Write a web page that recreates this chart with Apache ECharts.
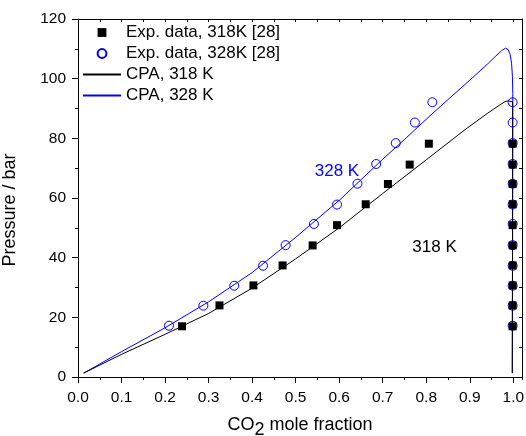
<!DOCTYPE html>
<html>
<head>
<meta charset="utf-8">
<title>CO2 solubility – CPA vs experiment</title>
<script src="https://cdn.jsdelivr.net/npm/echarts@6/dist/echarts.min.js"></script>
<style>
  html, body { margin: 0; padding: 0; background: #fff; }
  #chart { width: 526px; height: 436px; }
</style>
</head>
<body>
<div id="chart"></div>
<script>
// Experimental data, 318 K: liquid-phase CO2 fraction, vapour-phase CO2 fraction, pressure (bar)
const exp318P    = [17.0, 24.0, 30.7, 37.4, 44.1, 50.9, 57.9, 64.7, 71.2, 78.2];
const exp318XLiq = [0.239, 0.325, 0.403, 0.470, 0.539, 0.595, 0.661, 0.712, 0.762, 0.806];
const exp318XVap = [0.9985, 0.9985, 0.9985, 0.9985, 0.9985, 0.9985, 0.9985, 0.9985, 0.9985, 0.9985];

// Experimental data, 328 K
const exp328P    = [17.2, 23.9, 30.6, 37.3, 44.2, 51.3, 57.8, 64.8, 71.4, 78.4, 85.3, 92.1];
const exp328XLiq = [0.209, 0.288, 0.359, 0.425, 0.477, 0.542, 0.595, 0.642, 0.685, 0.730, 0.774, 0.814];
const exp328XVap = [0.9985, 0.9985, 0.9985, 0.9985, 0.9985, 0.9985, 0.9985, 0.9985, 0.9985, 0.9985, 0.9985, 0.9985];

// CPA phase envelope, 318 K (bubble branch then dew branch)
const cpa318X = [0.013, 0.1, 0.2, 0.3, 0.4, 0.5, 0.6, 0.7, 0.8, 0.889, 0.94, 0.97, 0.981, 0.9885, 0.9986, 0.9984, 0.9981, 0.9977];
const cpa318P = [1.3, 7.6, 14.3, 21.3, 29.8, 39.6, 50.0, 61.5, 72.8, 82.9, 88.3, 91.3, 92.3, 92.6, 92.2, 60.0, 30.0, 1.3];

// CPA phase envelope, 328 K
const cpa328X = [0.013, 0.1, 0.2, 0.3, 0.4, 0.5, 0.6, 0.7, 0.75, 0.8, 0.85, 0.9, 0.94, 0.96, 0.975, 0.982, 0.988, 0.993, 0.996, 0.998, 0.9988, 0.9985, 0.9981, 0.9977];
const cpa328P = [1.3, 8.5, 16.5, 25.2, 35.0, 46.8, 59.2, 73.0, 79.6, 86.4, 93.0, 99.5, 104.8, 107.6, 109.6, 110.2, 109.8, 108.0, 105.2, 100.7, 95.0, 60.0, 30.0, 1.3];

// Axis ticks
const xTicks = [0.0, 0.1, 0.2, 0.3, 0.4, 0.5, 0.6, 0.7, 0.8, 0.9, 1.0];
const yTicks = [0, 20, 40, 60, 80, 100, 120];

// Series names
const names = ['Exp. data, 318K [28]', 'Exp. data, 328K [28]', 'CPA, 318 K', 'CPA, 328 K'];

// Curve annotations: [text, x, pressure]
const notes = [['328 K', 0.595, 69.1], ['318 K', 0.819, 43.5]];

const BLUE = '#0000ff';
const FONT = 'Liberation Sans, Arial, Helvetica, sans-serif';

const pairs = (xs, ys) => xs.map((x, i) => [x, ys[i]]);

const xMin = xTicks[0], xMax = 1.02;
const yMin = yTicks[0], yMax = yTicks[yTicks.length - 1];

const chart = echarts.init(document.getElementById('chart'), null, { renderer: 'canvas' });

const hiddenLine = { color: 'rgba(0,0,0,0)', width: 0 };

const option = {
  animation: false,
  backgroundColor: '#fff',
  textStyle: { fontFamily: FONT, color: '#000' },
  grid: { left: 78, right: 4, top: 19, bottom: 59, containLabel: false, outerBoundsMode: 'none' },
  legend: {
    orient: 'vertical',
    left: 82,
    top: 24,
    padding: 0,
    itemWidth: 38,
    itemHeight: 11,
    itemGap: 4,
    selectedMode: false,
    textStyle: { fontFamily: FONT, fontSize: 17, color: '#000', lineHeight: 17 },
    data: [
      { name: names[0], lineStyle: { opacity: 0 } },
      { name: names[1], lineStyle: { opacity: 0 } },
      { name: names[2], itemStyle: { opacity: 0 } },
      { name: names[3], itemStyle: { opacity: 0 } }
    ]
  },
  xAxis: [
    {
      type: 'value', position: 'bottom', min: xMin, max: xMax, interval: 0.1,
      axisLine: { show: true, onZero: false, lineStyle: { color: '#000', width: 1 } },
      axisTick: { show: true, inside: false, length: 6, lineStyle: { color: '#000' } },
      splitLine: { show: false },
      axisLabel: {
        show: true, margin: 13, fontSize: 15.5, color: '#000', fontFamily: FONT,
        showMaxLabel: false,
        formatter: v => (xTicks.some(t => Math.abs(t - v) < 1e-9) ? v.toFixed(1) : '')
      },
      name: '{a|CO}{b|2}{a| mole fraction}',
      nameLocation: 'middle',
      nameGap: 35,
      nameTextStyle: {
        rich: {
          a: { fontSize: 18, fontFamily: FONT, color: '#000' },
          b: { fontSize: 18, fontFamily: FONT, color: '#000', padding: [9, 0, 0, 0] }
        }
      }
    },
    {
      type: 'value', position: 'bottom', min: xMin, max: xMax, interval: 0.05,
      axisLine: { show: false, onZero: false },
      axisTick: { show: true, inside: false, length: 3, lineStyle: { color: '#000' } },
      axisLabel: { show: false }, splitLine: { show: false }
    },
    {
      type: 'value', position: 'top', min: xMin, max: xMax, interval: 0.05,
      axisLine: { show: true, onZero: false, lineStyle: { color: '#000', width: 1 } },
      axisTick: { show: true, inside: true, length: 3, lineStyle: { color: '#000' } },
      axisLabel: { show: false }, splitLine: { show: false }
    }
  ],
  yAxis: [
    {
      type: 'value', position: 'left', min: yMin, max: yMax, interval: 20,
      axisLine: { show: true, onZero: false, lineStyle: { color: '#000', width: 1 } },
      axisTick: { show: true, inside: false, length: 6, lineStyle: { color: '#000' } },
      splitLine: { show: false },
      axisLabel: { show: true, margin: 12, fontSize: 15.5, color: '#000', fontFamily: FONT },
      name: 'Pressure / bar',
      nameLocation: 'middle',
      nameRotate: 90,
      nameGap: 59,
      nameTextStyle: { fontSize: 18, fontFamily: FONT, color: '#000', padding: [0, 24, 0, 0] }
    },
    {
      type: 'value', position: 'left', min: yMin, max: yMax, interval: 10,
      axisLine: { show: false, onZero: false },
      axisTick: { show: true, inside: false, length: 3, lineStyle: { color: '#000' } },
      axisLabel: { show: false }, splitLine: { show: false }
    },
    {
      type: 'value', position: 'right', min: yMin, max: yMax, interval: 10,
      axisLine: { show: true, onZero: false, lineStyle: { color: '#000', width: 1 } },
      axisTick: { show: true, inside: true, length: 3, lineStyle: { color: '#000' } },
      axisLabel: { show: false }, splitLine: { show: false }
    }
  ],
  series: [
    {
      name: names[3], type: 'line', xAxisIndex: 0, yAxisIndex: 0,
      data: pairs(cpa328X, cpa328P),
      showSymbol: false, symbol: 'none', smooth: false,
      lineStyle: { color: BLUE, width: 1 }, itemStyle: { color: BLUE },
      emphasis: { disabled: true }, z: 2
    },
    {
      name: names[2], type: 'line', xAxisIndex: 0, yAxisIndex: 0,
      data: pairs(cpa318X, cpa318P),
      showSymbol: false, symbol: 'none', smooth: false,
      lineStyle: { color: '#000', width: 1 }, itemStyle: { color: '#000' },
      emphasis: { disabled: true }, z: 3
    },
    {
      name: names[1], type: 'line', xAxisIndex: 0, yAxisIndex: 0,
      data: pairs(exp328XLiq, exp328P).concat(pairs(exp328XVap, exp328P)),
      symbol: 'circle', symbolSize: 9, showSymbol: true, showAllSymbol: true,
      lineStyle: hiddenLine,
      itemStyle: { color: 'rgba(255,255,255,0)', borderColor: BLUE, borderWidth: 1 },
      emphasis: { disabled: true }, z: 4
    },
    {
      name: names[0], type: 'line', xAxisIndex: 0, yAxisIndex: 0,
      data: pairs(exp318XLiq, exp318P).concat(pairs(exp318XVap, exp318P)),
      symbol: 'rect', symbolSize: 8, showSymbol: true, showAllSymbol: true,
      lineStyle: hiddenLine,
      itemStyle: { color: '#000' },
      emphasis: { disabled: true }, z: 5
    }
  ]
};

chart.setOption(option);

// Temperature labels placed in data coordinates
chart.setOption({
  graphic: notes.map(([text, x, p], i) => {
    const [px, py] = chart.convertToPixel({ gridIndex: 0 }, [x, p]);
    return {
      type: 'text', x: px, y: py, z: 10,
      style: {
        text: text, fill: i === 0 ? BLUE : '#000',
        font: '17px ' + FONT, align: 'center', verticalAlign: 'middle'
      }
    };
  })
});
</script>
</body>
</html>
